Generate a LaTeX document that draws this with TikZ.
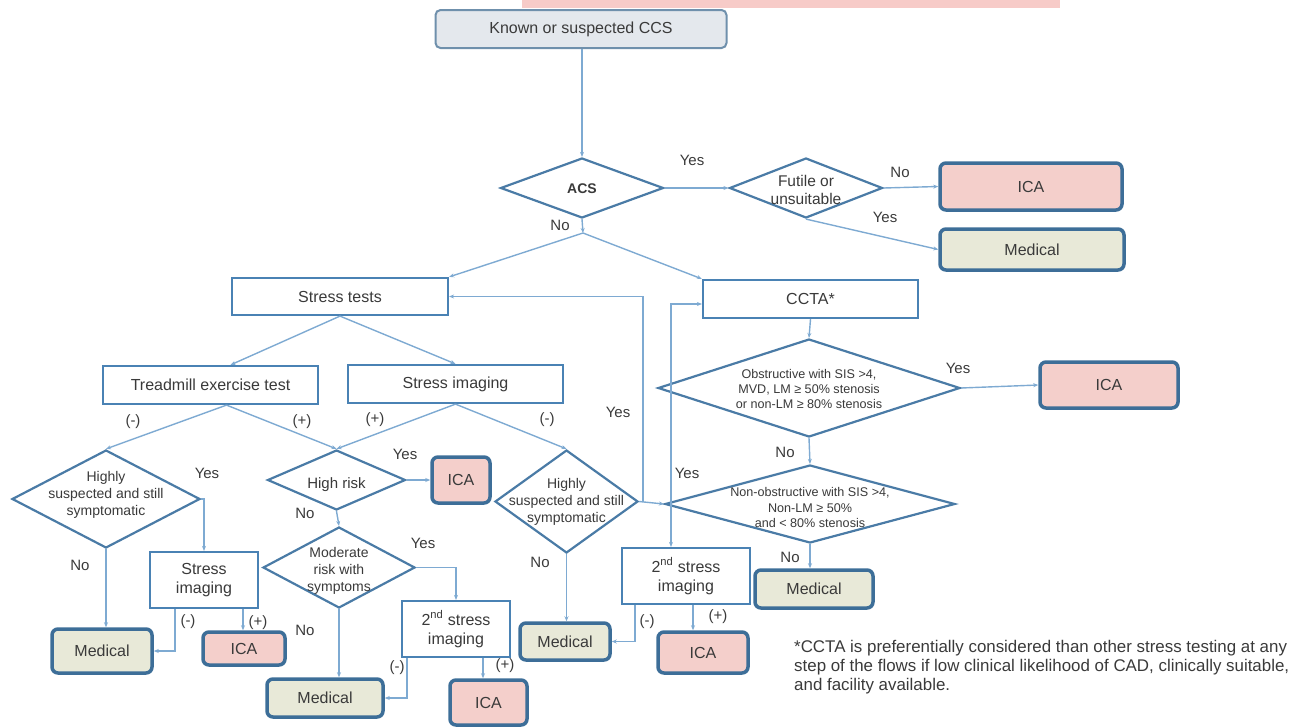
\documentclass[tikz,border=0pt]{standalone}
\usepackage{fontspec}
\setmainfont{Liberation Sans}
\usetikzlibrary{shapes.geometric,arrows.meta,calc}
\definecolor{txt}{HTML}{3A3A3A}
\definecolor{boxc}{HTML}{4A82B4}
\definecolor{termc}{HTML}{3D6E98}
\definecolor{diac}{HTML}{4A7BA6}
\definecolor{linec}{HTML}{7EAAD2}
\definecolor{icaf}{HTML}{F4CFCB}
\definecolor{medf}{HTML}{E8E9D8}
\definecolor{topf}{HTML}{E4E8ED}
\definecolor{topc}{HTML}{6F90AC}
\definecolor{bandc}{HTML}{F7CBC8}
\newcommand\dtx[2][6pt]{\smash{\raisebox{-#1}{\makebox[0pt]{\begin{tabular}{@{}c@{}}#2\end{tabular}}}}}
\tikzset{
  box/.style={draw=boxc, line width=2.2pt, fill=white, text=txt, inner sep=2pt, align=center,
    font=\fontsize{16}{19}\selectfont},
  topbox/.style={draw=topc, line width=2pt, fill=topf, rounded corners=5pt, text=txt, inner sep=2pt,
    font=\fontsize{16}{19}\selectfont},
  term/.style={draw=termc, line width=3.5pt, rounded corners=6pt, text=txt, inner sep=2pt,
    font=\fontsize{16}{19}\selectfont},
  ica/.style={term, fill=icaf},
  med/.style={term, fill=medf},
  dia/.style={diamond, draw=diac, line width=2.2pt, fill=white, text=txt, inner sep=0pt,
    font=\fontsize{14}{17}\selectfont},
  con/.style={draw=linec, line width=1.4pt},
  arr/.style={con, -{Stealth[length=5pt,width=4pt]}},
  lab/.style={text=txt, inner sep=0pt, font=\fontsize{15}{17}\selectfont},
  foot/.style={text=txt, inner sep=0pt, align=left, font=\fontsize{16.9}{18.8}\selectfont},
}
\begin{document}
\begin{tikzpicture}[x=1pt,y=-1pt]
\useasboundingbox (0,0) rectangle (1303,726);
\fill[bandc] (522,0) rectangle (1060,8);

% top part
\node[topbox, minimum width=291pt, minimum height=38pt] (top) at (581,29) {Known or suspected CCS};
\node[dia, minimum width=163pt, minimum height=60pt] (acs) at (582,188) {\dtx{\bfseries ACS}};
\node[dia, minimum width=153pt, minimum height=60pt, font=\fontsize{15.5}{18}\selectfont] (fut) at (806,188) {\dtx[7pt]{Futile or\\unsuitable}};
\node[ica, minimum width=182pt, minimum height=47pt] (ica1) at (1031,186.5) {ICA};
\node[med, minimum width=184pt, minimum height=41pt] (med1) at (1032,249.5) {Medical};
\coordinate (j1) at (583,233);

\node[box, minimum width=216pt, minimum height=37pt] (st) at (340,296.5) {Stress tests};
\node[box, minimum width=215pt, minimum height=38pt] (ccta) at (810.5,299) {CCTA*};
\node[box, minimum width=215pt, minimum height=38pt] (tm) at (210.5,385) {Treadmill exercise test};
\node[box, minimum width=215pt, minimum height=38pt] (si) at (455.5,384) {Stress imaging};

% left branch
\node[dia, minimum width=188pt, minimum height=98pt] (hs1) at (106,499) {\dtx[0pt]{Highly\\suspected and still\\symptomatic}};
\node[box, minimum width=108pt, minimum height=56pt] (si3) at (204,580) {Stress\\imaging};
\node[med, minimum width=100pt, minimum height=44pt] (med5) at (102,651) {Medical};
\node[ica, minimum width=82pt, minimum height=33pt] (ica6) at (244,648.5) {ICA};

% middle branch
\node[dia, minimum width=138pt, minimum height=60pt, font=\fontsize{15}{17}\selectfont] (hr) at (336.5,480) {\dtx[9pt]{High risk}};
\node[ica, minimum width=58pt, minimum height=46pt] (ica2) at (461,480) {ICA};
\node[dia, minimum width=152pt, minimum height=81pt] (mod) at (339,567.5) {\dtx[7pt]{Moderate\\risk with\\symptoms}};
\node[box, minimum width=108pt, minimum height=56pt] (ssi1) at (456,629) {2\textsuperscript{nd} stress\\imaging};
\node[med, minimum width=116pt, minimum height=38pt] (med4) at (325,698) {Medical};
\node[ica, minimum width=77pt, minimum height=45pt] (ica5) at (488.5,702.5) {ICA};

\node[dia, minimum width=143pt, minimum height=103pt] (hs2) at (566.5,501.5) {\dtx[4pt]{Highly\\suspected and still\\symptomatic}};
\node[med, minimum width=90pt, minimum height=37pt] (med3) at (565,641.5) {Medical};

% right branch
\node[dia, minimum width=302pt, minimum height=98pt, font=\fontsize{12.6}{15}\selectfont] (obs) at (809,388) {\dtx[5pt]{Obstructive with SIS >4,\\MVD, LM ≥ 50\% stenosis\\or non-LM ≥ 80\% stenosis}};
\node[ica, minimum width=138pt, minimum height=46pt] (ica3) at (1109,385) {ICA};
\node[dia, minimum width=290pt, minimum height=78pt, font=\fontsize{12.6}{15.5}\selectfont] (nob) at (810,504) {\dtx[8pt]{Non-obstructive with SIS >4,\\Non-LM ≥ 50\%\\and < 80\% stenosis}};
\node[med, minimum width=118pt, minimum height=38pt] (med2) at (814,589) {Medical};
\node[box, minimum width=128pt, minimum height=56pt] (ssi2) at (686,576) {2\textsuperscript{nd} stress\\imaging};
\node[ica, minimum width=90pt, minimum height=41pt] (ica4) at (703,652.5) {ICA};
\coordinate (jy) at (671,504);

% helper coordinates
\coordinate (a1) at ([xshift=7pt]ssi2.south);
\coordinate (a2) at ([xshift=-51pt]ssi2.south);
\coordinate (a3) at ([xshift=27pt]ssi1.south);
\coordinate (a4) at ([xshift=-49pt]ssi1.south);
\coordinate (a5) at ([xshift=39pt]si3.south);
\coordinate (a6) at ([xshift=-29pt]si3.south);
\coordinate (a7) at ([xshift=20pt]tm.north);
\coordinate (a8) at ([xshift=16pt]tm.south);

% connectors
\draw[arr] (top.south -| acs.north) -- (acs.north);
\draw[arr] (acs.east) -- (fut.west);
\draw[arr] (fut.east) -- (ica1.west);
\draw[arr] (fut.south) -- (med1.west);
\draw[arr] (acs.south) -- (j1);
\draw[arr] (j1) -- (st.north east);
\draw[arr] (j1) -- (ccta.north west);

\draw[arr] (st.south) -- (a7);
\draw[arr] (st.south) -- (si.north);
\draw[arr] (a8) -- (hs1.north);
\draw[arr] (a8) -- (hr.north);
\draw[arr] (si.south) -- (hr.north);
\draw[arr] (si.south) -- (hs2.north);

\draw[arr] (hs1.east) -| (si3.north);
\draw[arr] (hs1.south) -- (hs1.south |- med5.north);
\draw[arr] (a6) |- (med5.east);
\draw[arr] (a5) -- (a5 |- ica6.north);

\draw[arr] (hr.east) -- (ica2.west);
\draw[arr] (hr.south) -- (mod.north);
\draw[arr] (mod.east) -| (ssi1.north);
\draw[arr] (mod.south) -- (mod.south |- med4.north);
\draw[arr] (a4) |- (med4.east);
\draw[arr] (a3) -- (a3 |- ica5.north);

\draw[arr] (hs2.south) -- (hs2.south |- med3.north);
\draw[arr] (hs2.east) -- (nob.west);
\draw[arr] (hs2.east) -- ++(4,0) |- (st.east);
\draw[arr] (jy) |- ([yshift=-5pt]ccta.west);
\draw[arr] (jy) -- (jy |- ssi2.north);

\draw[arr] (ccta.south) -- (obs.north);
\draw[arr] (obs.east) -- (ica3.west);
\draw[arr] (obs.south) -- (nob.north);
\draw[arr] (nob.south) -- (nob.south |- med2.north);
\draw[arr] (a2) |- (med3.east);
\draw[arr] (a1) -- (a1 |- ica4.north);

% labels
\node[lab] (l1) at (692,160) {Yes};
\node[lab] (l2) at (900,172) {No};
\node[lab] (l3) at (885,217) {Yes};
\node[lab] (l4) at (560,225) {No};
\node[lab] (l5) at (133,422) {(-)};
\node[lab] (l6) at (302,422) {(+)};
\node[lab] (l7) at (375,420) {(+)};
\node[lab] (l8) at (547,420) {(-)};
\node[lab] (l9) at (207,473) {Yes};
\node[lab] (l10) at (405,454) {Yes};
\node[lab] (l11) at (305,513) {No};
\node[lab] (l12) at (423,543) {Yes};
\node[lab] (l13) at (80,565) {No};
\node[lab] (l14) at (305,630) {No};
\node[lab] (l15) at (188,622) {(-)};
\node[lab] (l16) at (258,623) {(+)};
\node[lab] (l17) at (397,668) {(-)};
\node[lab] (l18) at (505,666) {(+)};
\node[lab] (l19) at (540,562) {No};
\node[lab] (l20) at (618,412) {Yes};
\node[lab] (l21) at (687,473) {Yes};
\node[lab] (l22) at (958,368) {Yes};
\node[lab] (l23) at (785,452) {No};
\node[lab] (l24) at (790,557) {No};
\node[lab] (l25) at (647,622) {(-)};
\node[lab] (l26) at (718,617) {(+)};

\node[foot, anchor=north west] (fn) at (794,640) {*CCTA is preferentially considered than other stress testing at any\\step of the flows if low clinical likelihood of CAD, clinically suitable,\\and facility available.};
\end{tikzpicture}
\end{document}
